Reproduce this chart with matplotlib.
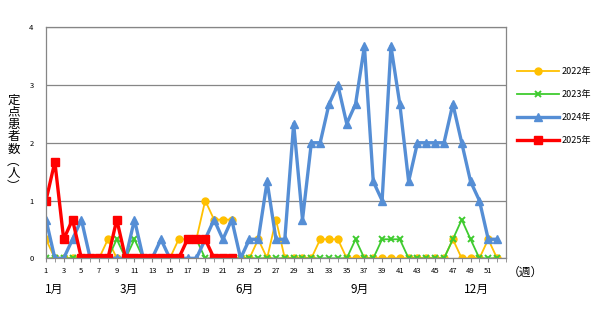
import numpy as np
import matplotlib
matplotlib.use('Agg')
from matplotlib import pyplot as plt

plt.rcParams['font.family'] = ['Noto Sans CJK JP', 'DejaVu Sans']

# weekly values
weeks = list(range(1, 53))
y2022 = [0.33, 0, 0, 0, 0, 0, 0, 0.33, 0, 0,
         0, 0, 0, 0, 0, 0.33, 0.33, 0.33, 1.0, 0.67,
         0.67, 0.67, 0, 0, 0.33, 0, 0.67, 0, 0, 0,
         0, 0.33, 0.33, 0.33, 0, 0, 0, 0, 0, 0,
         0, 0, 0, 0, 0, 0, 0.33, 0, 0, 0,
         0.33, 0]
y2023 = [0, 0, 0, 0, 0, 0, 0, 0, 0.33, 0,
         0.33, 0, 0, 0, 0, 0, 0.33, 0.33, 0, 0,
         0, 0, 0, 0, 0, 0, 0, 0, 0, 0,
         0, 0, 0, 0, 0, 0.33, 0, 0, 0.33, 0.33,
         0.33, 0, 0, 0, 0, 0, 0.33, 0.67, 0.33, 0,
         0, 0]
y2024 = [0.67, 0, 0, 0.33, 0.67, 0, 0, 0, 0, 0,
         0.67, 0, 0, 0.33, 0, 0, 0, 0, 0.33, 0.67,
         0.33, 0.67, 0, 0.33, 0.33, 1.33, 0.33, 0.33, 2.33, 0.67,
         2.0, 2.0, 2.67, 3.0, 2.33, 2.67, 3.67, 1.33, 1.0, 3.67,
         2.67, 1.33, 2.0, 2.0, 2.0, 2.0, 2.67, 2.0, 1.33, 1.0,
         0.33, 0.33]
y2025 = [1.0, 1.67, 0.33, 0.67, 0, 0, 0, 0, 0.67, 0,
         0, 0, 0, 0, 0, 0, 0.33, 0.33, 0.33, 0,
         0, 0]

series = ['2022年', '2023年', '2024年', '2025年']
week_ticks = list(range(1, 52, 2))
months = ['1月', '3月', '6月', '9月', '12月']
month_pos = [1.9, 10.4, 23.4, 36.5, 49.7]
ylabel = '定点患者数︵人︶'   # vertical-form brackets

fig = plt.figure(figsize=(6.10, 3.12), dpi=100)
ax = fig.add_axes([0.0754, 0.172, 0.754, 0.741])

grid_c = '#868686'
ax.plot(weeks, y2022, color='#FFC000', lw=1.3, marker='o', ms=5,
        label=series[0])
ax.plot(weeks, y2023, color='#3FCB2F', lw=1.3, marker='x', ms=4.5, mew=1.4,
        label=series[1])
ax.plot(weeks, y2024, color='#558ED5', lw=2.4, marker='^', ms=6,
        label=series[2])
ax.plot(weeks[:len(y2025)], y2025, color='#FF0000', lw=2.4, marker='s',
        ms=5.5, label=series[3])

ax.set_xlim(1, 53)
ax.set_ylim(0, 4)
ax.set_yticks([0, 1, 2, 3, 4])
ax.yaxis.grid(True, color=grid_c, lw=0.9)
ax.set_axisbelow(True)
for s in ax.spines.values():
    s.set_color(grid_c)
    s.set_linewidth(0.9)

ax.set_xticks(week_ticks)
ax.set_xticklabels([str(w) for w in week_ticks], fontsize=5.5)
ax.set_xticks(range(1, 54), minor=True)
ax.tick_params(axis='x', which='both', length=3, color=grid_c, pad=3)
ax.tick_params(axis='y', length=0, labelsize=5.5, pad=9)

ax.text(53.2, -0.13, '（週）', fontsize=8.5, va='top', ha='left',
        clip_on=False)
for m, p in zip(months, month_pos):
    ax.text(p, -0.42, m, fontsize=8.5, ha='center', va='top', clip_on=False)

# vertical y label, one character per line
for i, ch in enumerate(ylabel):
    fig.text(0.022, 1 - (100 + i * 12.3) / 312, ch, fontsize=9,
             ha='center', va='center')

fig.legend(loc='upper left', bbox_to_anchor=(0.835, 0.81), frameon=False,
           fontsize=6.5, handlelength=4.6, labelspacing=1.55,
           handletextpad=0.3)

fig.savefig('out.png', dpi=100)
